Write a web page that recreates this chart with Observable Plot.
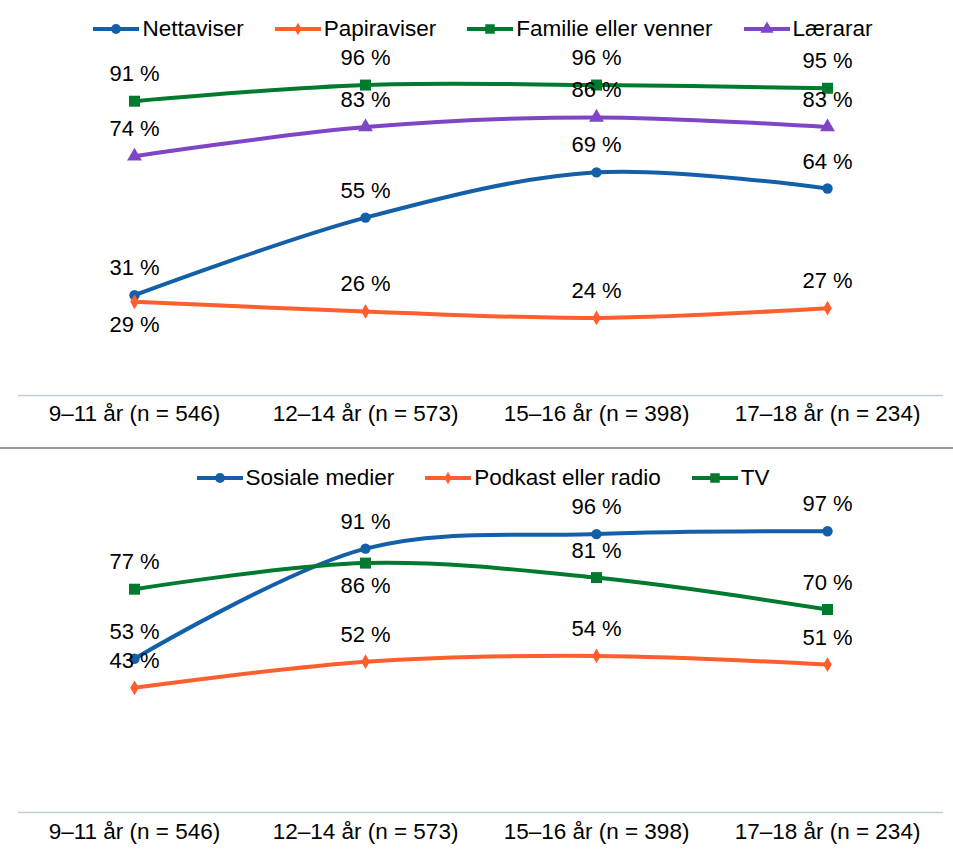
<!DOCTYPE html>
<html>
<head>
<meta charset="utf-8">
<script src="https://cdn.jsdelivr.net/npm/d3@7"></script>
<script src="https://cdn.jsdelivr.net/npm/@observablehq/plot@0.6"></script>
<style>
  html, body { margin: 0; padding: 0; background: #fff; }
  body { font-family: "Liberation Sans", Arial, sans-serif; }
  #wrap { position: relative; width: 953px; height: 859px; overflow: hidden; }
  .panel { position: absolute; left: 0; }
  .legend { position: absolute; left: 0; width: 953px; box-sizing: border-box; padding-left: 13px;
            display: flex; justify-content: center; gap: 31px; font-size: 22.5px; color: #000; line-height: 24px; }
  .item { display: flex; align-items: center; gap: 3px; }
  .sep { position: absolute; left: 0; width: 953px; height: 2px; background: #999; }
</style>
</head>
<body>
<div id="wrap"></div>
<script>
// ---- data ----
const categories = ["9–11 år (n = 546)", "12–14 år (n = 573)", "15–16 år (n = 398)", "17–18 år (n = 234)"];

// top panel
const nettaviser = [31, 55, 69, 64];
const papiraviser = [29, 26, 24, 27];
const familie = [91, 96, 96, 95];
const laerarar = [74, 83, 86, 83];

// bottom panel
const sosialeMedier = [53, 91, 96, 97];
const podkast = [43, 52, 54, 51];
const tv = [77, 86, 81, 70];

// ---- styling config ----
const topSeries = [
  {name: "Nettaviser", values: nettaviser, color: "#135fa8", symbol: "circle", r: 5.2, below: []},
  {name: "Papiraviser", values: papiraviser, color: "#ff5f2e", symbol: "diamond", r: 4.5, below: [0]},
  {name: "Familie eller venner", values: familie, color: "#007a2f", symbol: "square", r: 6.2, below: []},
  {name: "Lærarar", values: laerarar, color: "#7e45c4", symbol: "triangle", r: 5.5, below: []}
];
const bottomSeries = [
  {name: "Sosiale medier", values: sosialeMedier, color: "#135fa8", symbol: "circle", r: 5.2, below: []},
  {name: "Podkast eller radio", values: podkast, color: "#ff5f2e", symbol: "diamond", r: 4.5, below: []},
  {name: "TV", values: tv, color: "#007a2f", symbol: "square", r: 6.2, below: [1]}
];

const FONT = "Liberation Sans, Arial, sans-serif";

function panel(series, height, mt, mb, labelDy) {
  const rows = series.flatMap(s => s.values.map((v, i) => ({
    cat: categories[i], value: v, name: s.name, below: s.below.includes(i)
  })));
  const marks = [
    Plot.ruleY([0], {stroke: "#c3cddb", strokeWidth: 1.5}),
    Plot.text(categories, {x: d => d, frameAnchor: "bottom", dy: labelDy, fontSize: 22.5, fill: "#000", fontFamily: FONT})
  ];
  for (const s of series) {
    const d = rows.filter(r => r.name === s.name);
    marks.push(Plot.line(d, {x: "cat", y: "value", stroke: s.color, strokeWidth: 4, curve: "catmull-rom"}));
    marks.push(Plot.dot(d, {x: "cat", y: "value", fill: s.color, stroke: "none", symbol: s.symbol, r: s.r}));
  }
  marks.push(Plot.text(rows.filter(d => !d.below), {
    x: "cat", y: "value", text: d => d.value + "\u00a0%", dy: -27,
    fontSize: 22, fill: "#000", fontFamily: FONT
  }));
  marks.push(Plot.text(rows.filter(d => d.below), {
    x: "cat", y: "value", text: d => d.value + "\u00a0%", dy: 23,
    fontSize: 22, fill: "#000", fontFamily: FONT
  }));
  return Plot.plot({
    width: 953, height, marginLeft: 18, marginRight: 10, marginTop: mt, marginBottom: mb,
    x: {type: "point", domain: categories, padding: 0.5, axis: null},
    y: {domain: [0, 100], axis: null},
    style: {background: "transparent", overflow: "visible"},
    marks
  });
}

function legend(series, centerY) {
  const div = document.createElement("div");
  div.className = "legend";
  div.style.top = (centerY - 12) + "px";
  for (const s of series) {
    const item = document.createElement("div");
    item.className = "item";
    const sym = d3.symbol().type({
      circle: d3.symbolCircle, square: d3.symbolSquare, diamond: d3.symbolDiamond, triangle: d3.symbolTriangle
    }[s.symbol]).size(s.symbol === "square" ? 90 : s.symbol === "diamond" ? 45 : 75)();
    item.innerHTML = `<svg width="46" height="16" style="display:block"><line x1="0" x2="46" y1="8" y2="8" stroke="${s.color}" stroke-width="4"/><path d="${sym}" transform="translate(23,8)" fill="${s.color}"/></svg><span>${s.name}</span>`;
    div.appendChild(item);
  }
  return div;
}

const wrap = document.getElementById("wrap");

const p1 = panel(topSeries, 448, 71.6, 53, 25);
p1.classList.add("panel"); p1.style.top = "0px";
wrap.appendChild(p1);
wrap.appendChild(legend(topSeries, 29));

const sep = document.createElement("div");
sep.className = "sep"; sep.style.top = "447px";
wrap.appendChild(sep);

const p2 = panel(bottomSeries, 410, 73, 47, 26);
p2.classList.add("panel"); p2.style.top = "449px";
wrap.appendChild(p2);
wrap.appendChild(legend(bottomSeries, 478));
</script>
</body>
</html>
